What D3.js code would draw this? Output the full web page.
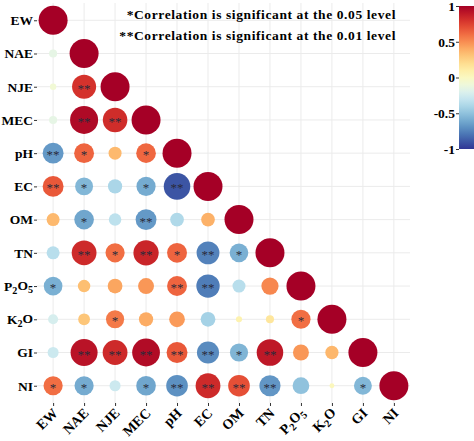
<!DOCTYPE html>
<html><head><meta charset="utf-8">
<script src="https://cdn.jsdelivr.net/npm/d3@7"></script>
<style>
html,body{margin:0;padding:0;background:#fff;}
svg{display:block;}
svg text{font-family:"Liberation Serif","Times New Roman",serif !important;font-weight:bold;}
svg text.star{font-weight:normal;}
</style></head>
<body><svg id="chart" width="474" height="441"></svg>
<script>
const variables = ["EW","NAE","NJE","MEC","pH","EC","OM","TN","P2O5","K2O","GI","NI"];
const corrRows = [
  [1],
  [-0.15, 1],
  [-0.08, 0.80, 1],
  [-0.15, 0.96, 0.82, 1],
  [-0.67, 0.63, 0.35, 0.62, 1],
  [0.67, -0.55, -0.40, -0.60, -0.90, 1],
  [0.35, -0.62, -0.33, -0.67, -0.38, 0.38, 1],
  [-0.35, 0.83, 0.60, 0.85, 0.63, -0.75, -0.58, 1],
  [-0.58, 0.33, 0.42, 0.47, 0.63, -0.77, -0.35, 0.52, 1],
  [-0.23, 0.30, 0.56, 0.40, 0.46, -0.42, 0.07, 0.15, 0.60, 1],
  [-0.27, 0.92, 0.83, 0.95, 0.67, -0.72, -0.56, 0.90, 0.47, 0.36, 1],
  [0.60, -0.60, -0.27, -0.62, -0.70, 0.83, 0.70, -0.68, -0.50, 0.02, -0.55, 1]
];
const sigRows = [
  [""],
  ["",""],
  ["","**",""],
  ["","**","**",""],
  ["**","*","","*",""],
  ["**","*","","*","**",""],
  ["","*","","**","","",""],
  ["","**","*","**","*","**","*",""],
  ["*","","","","**","**","","",""],
  ["","","*","","","","","","*",""],
  ["","**","**","**","**","**","*","**","","",""],
  ["*","*","","*","**","**","**","**","","","*",""]
];
const legendLines = ["*Correlation is significant at the 0.05 level","**Correlation is significant at the 0.01 level"];
const colorTicks = [1, 0.5, 0, -0.5, -1];

const svg = d3.select("#chart");
const panel = {left:37, right:410, top:3, bottom:403};
const x = d3.scalePoint().domain(variables).range([panel.left, panel.right]).padding(0.52);
const y = d3.scalePoint().domain(variables).range([panel.top, panel.bottom]).padding(0.52);
const color = v => d3.interpolateRdYlBu((1 - v) / 2);
const rScale = d3.scaleLinear().domain([0,1]).range([2.2,14.5]);

// grid
const grid = svg.append("g");
grid.selectAll("line.h").data(variables).join("line")
  .attr("x1", panel.left).attr("x2", panel.right)
  .attr("y1", d=>y(d)).attr("y2", d=>y(d))
  .attr("stroke", "#ebebeb").attr("stroke-width", 1);
grid.selectAll("line.v").data(variables).join("line")
  .attr("y1", panel.top).attr("y2", panel.bottom)
  .attr("x1", d=>x(d)).attr("x2", d=>x(d))
  .attr("stroke", "#ebebeb").attr("stroke-width", 1);

// cells
const cells = [];
corrRows.forEach((row,i)=>row.forEach((v,j)=>cells.push({r:variables[i], c:variables[j], v, s:sigRows[i][j]})));
svg.append("g").selectAll("circle").data(cells).join("circle")
  .attr("cx", d=>x(d.c)).attr("cy", d=>y(d.r))
  .attr("r", d=>rScale(Math.abs(d.v)))
  .attr("fill", d=>color(d.v));
svg.append("g").selectAll("text").data(cells.filter(d=>d.s)).join("text")
  .attr("class","star")
  .attr("x", d=>x(d.c)).attr("y", d=>y(d.r)+6)
  .attr("text-anchor","middle")
  .attr("font-size", 13)
  .attr("fill", "#2a2a3a")
  .text(d=>d.s);

function labelTspans(sel){
  sel.each(function(d){
    const t = d3.select(this); t.text(null);
    if (d === "P2O5") {
      t.append("tspan").text("P");
      t.append("tspan").text("2").attr("font-size","0.75em").attr("dy","0.3em");
      t.append("tspan").text("O").attr("dy","-0.3em");
      t.append("tspan").text("5").attr("font-size","0.75em").attr("dy","0.3em");
    } else if (d === "K2O") {
      t.append("tspan").text("K");
      t.append("tspan").text("2").attr("font-size","0.75em").attr("dy","0.3em");
      t.append("tspan").text("O").attr("dy","-0.3em");
    } else t.text(d);
  });
}

// y axis
const yAxis = svg.append("g").attr("transform", `translate(${panel.left},0)`)
  .call(d3.axisLeft(y).tickSize(3).tickPadding(1));
yAxis.select(".domain").remove();
yAxis.selectAll(".tick line").attr("stroke","#333");
yAxis.selectAll(".tick text").attr("font-size",13.5).attr("fill","#000").call(labelTspans);

// x axis
const xAxis = svg.append("g").attr("transform", `translate(0,${panel.bottom})`)
  .call(d3.axisBottom(x).tickSize(3).tickPadding(2));
xAxis.select(".domain").remove();
xAxis.selectAll(".tick line").attr("stroke","#333");
xAxis.selectAll(".tick text").attr("font-size",14).attr("fill","#000")
  .attr("text-anchor","end").attr("dy",null).attr("y",null)
  .attr("transform","translate(5,11) rotate(-45)")
  .call(labelTspans);

// legend text
svg.append("g").selectAll("text").data(legendLines).join("text")
  .attr("x", 396).attr("y", (d,i)=>19 + i*21)
  .attr("text-anchor","end").attr("font-size",13.5).attr("fill","#000")
  .style("letter-spacing","0.6px")
  .text(d=>d);

// colorbar
const cb = {x:459, w:18, top:6, bottom:149};
const defs = svg.append("defs");
const grad = defs.append("linearGradient").attr("id","cbg").attr("x1",0).attr("x2",0).attr("y1",0).attr("y2",1);
d3.range(0,1.0001,0.05).forEach(t=>grad.append("stop").attr("offset",t).attr("stop-color",d3.interpolateRdYlBu(t)));
svg.append("rect").attr("x",cb.x).attr("y",cb.top).attr("width",cb.w).attr("height",cb.bottom-cb.top).attr("fill","url(#cbg)");
const cy = d3.scaleLinear().domain([-1,1]).range([cb.bottom, cb.top]);
const cAxis = svg.append("g").attr("transform",`translate(${cb.x},0)`)
  .call(d3.axisLeft(cy).tickValues(colorTicks).tickSize(3).tickPadding(1).tickFormat(d=>String(d)));
cAxis.select(".domain").remove();
cAxis.selectAll(".tick line").attr("stroke","#333");
cAxis.selectAll(".tick text").attr("font-size",13.5).attr("fill","#000");
</script></body></html>
